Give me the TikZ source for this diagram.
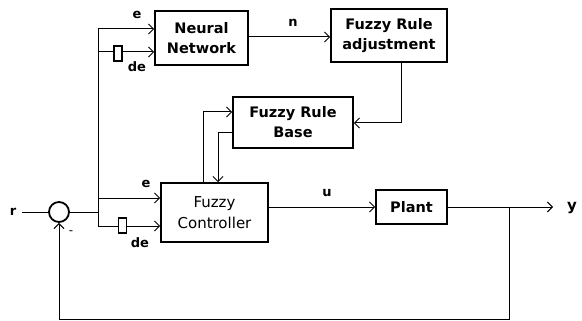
\documentclass[tikz,border=0pt]{standalone}
\usepackage{fontspec}
\setmainfont{DejaVu Sans}
\usetikzlibrary{arrows.meta}
\begin{document}
\begin{tikzpicture}[x=1pt,y=-1pt,
  blk/.style={draw,line width=1.6pt,inner sep=0pt,align=center,font=\fontsize{14.5}{20}\selectfont\bfseries},
  blkr/.style={draw,line width=1.6pt,inner sep=0pt,align=center,font=\fontsize{15}{21}\selectfont},
  dly/.style={draw,line width=1.5pt,inner sep=0pt,minimum width=8pt,minimum height=15pt},
  lbl/.style={font=\fontsize{13}{15}\selectfont\bfseries,inner sep=0pt},
  ln/.style={line width=1pt},
  arr/.style={ln,-{Straight Barb[length=5pt,width=10pt,line width=1pt]}}
]
\useasboundingbox (0,0) rectangle (582,321);
% blocks
\node[blk,minimum width=93pt,minimum height=54pt] (nn) at (201.5,38) {Neural\\Network};
\node[blk,minimum width=116pt,minimum height=53pt] (fra) at (389,35.5) {Fuzzy Rule\\adjustment};
\node[blk,minimum width=120pt,minimum height=51pt] (frb) at (293,122.5) {Fuzzy Rule\\Base};
\node[blkr,minimum width=107pt,minimum height=59pt] (fc) at (214.5,212.5) {Fuzzy\\Controller};
\node[blk,minimum width=71pt,minimum height=34pt] (pl) at (411.5,207) {Plant};
\node[draw,circle,line width=1.8pt,minimum size=20pt,inner sep=0pt] (sum) at (59,212) {};
% delay blocks
\node[dly] (d1) at (118,53.5) {};
\node[dly] (d2) at (122.5,225.5) {};
% coordinates
\coordinate (rin) at (22,212);
\coordinate (j) at (98,212);
\coordinate (jt) at (98,29);
\coordinate (jb) at (98,226);
\coordinate (je) at (98,198);
\coordinate (jd) at (98,52);
\coordinate (fb) at (509,207);
\coordinate (yout) at (553,207);
% labels
\node[lbl] (r) at (13,212) {r};
\node[lbl] (e1) at (137,15) {e};
\node[lbl] (de1) at (137,67) {de};
\node[lbl] (e2) at (146,184) {e};
\node[lbl] (de2) at (140,243) {de};
\node[lbl] (n) at (293,23) {n};
\node[lbl] (u) at (327,193) {u};
\node[lbl,font=\fontsize{15}{17}\selectfont\bfseries] (y) at (572,208) {y};
\node[font=\fontsize{12}{12}\selectfont,inner sep=0pt] (minus) at (71,233) {-};
% connectors
\draw[ln] (rin) -- (sum.west);
\draw[ln] (sum.east) -- (j);
\draw[ln] (jt) -- (jb);
\draw[arr] (jt) -- (nn.west |- jt);
\draw[ln] (jd) -- (d1.west |- jd);
\draw[arr] (d1.east |- jd) -- (nn.west |- jd);
\draw[arr] (je) -- (fc.west |- je);
\draw[ln] (jb) -- (d2.west |- jb);
\draw[arr] (d2.east |- jb) -- (fc.west |- jb);
\draw[arr] (nn.east |- 0,37) -- (fra.west |- 0,37);
\draw[arr] (fra.south -| 401,0) |- (frb.east |- 0,123);
\draw[arr] (fc.north -| 203,0) |- (frb.west |- 0,112);
\draw[arr] (frb.west |- 0,133) -| (fc.north -| 218,0);
\draw[arr] (fc.east |- 0,207) -- (pl.west);
\draw[arr] (pl.east) -- (yout);
\draw[arr] (fb) |- (59,319) -- (sum.south);
\end{tikzpicture}
\end{document}
